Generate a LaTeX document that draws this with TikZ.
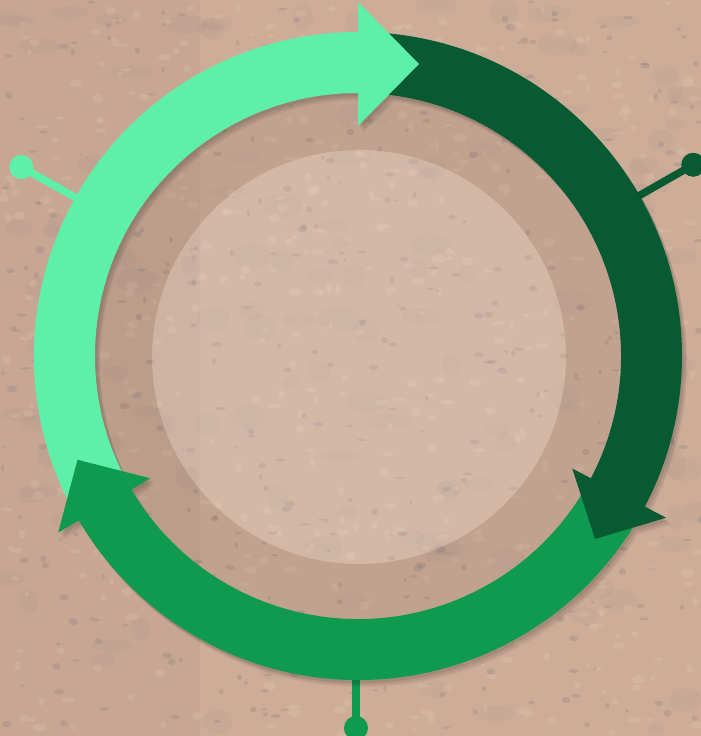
\documentclass[tikz,border=0pt]{standalone}
\usetikzlibrary{calc}
\definecolor{cork}{RGB}{206,173,152}
\definecolor{corkdark}{RGB}{118,112,124}
\definecolor{corklight}{RGB}{232,205,182}
\definecolor{lightg}{RGB}{94,240,168}
\definecolor{darkg}{RGB}{7,90,50}
\definecolor{midg}{RGB}{16,154,80}
\tikzset{
  pinline/.style={line width=7.5pt},
  speck/.style={fill=corkdark,opacity=0.22},
  lspeck/.style={fill=corklight,opacity=0.22},
  blotch/.style={fill=corkdark,opacity=0.06}
}
\newcommand\lightshaft{(207:324) arc[start angle=207,end angle=88,radius=324] -- (88:263) arc[start angle=88,end angle=207,radius=263] -- cycle}
\newcommand\darkshaft{(86.5:324) arc[start angle=86.5,end angle=-29.5,radius=324] -- (-29.5:263) arc[start angle=-29.5,end angle=86.5,radius=263] -- cycle}
\newcommand\midshaft{(-31:324) arc[start angle=-31,end angle=-151.5,radius=324] -- (-151.5:263) arc[start angle=-151.5,end angle=-31,radius=263] -- cycle}
\newcommand\lighthead{(90:230) -- (90:354) -- (61,292) -- cycle}
\newcommand\darkhead{(-27.7:242) -- (-27.7:348) -- (237,-183) -- cycle}
\newcommand\midhead{(210.5:241) -- (210.5:348) -- (-280.5,-103.8) -- cycle}
\begin{document}
\begin{tikzpicture}[x=1pt,y=1pt]
\useasboundingbox (0,0) rectangle (701,736);
\clip (0,0) rectangle (701,736);
\fill[cork] (0,0) rectangle (701,736);
\fill[black,opacity=0.03] (0,0) rectangle (200,736);
% cork texture
\pgfmathsetseed{12}
\foreach \i in {1,...,160}{
  \pgfmathsetmacro{\rx}{rnd*701}
  \pgfmathsetmacro{\ry}{rnd*736}
  \pgfmathsetmacro{\ra}{8+rnd*14}
  \pgfmathsetmacro{\rb}{5+rnd*8}
  \fill[blotch] (\rx,\ry) ellipse [x radius=\ra, y radius=\rb];
}
\foreach \i in {1,...,420}{
  \pgfmathsetmacro{\rx}{rnd*701}
  \pgfmathsetmacro{\ry}{rnd*736}
  \pgfmathsetmacro{\ra}{1.5+rnd*4}
  \pgfmathsetmacro{\rb}{1+rnd*2.5}
  \fill[speck] (\rx,\ry) ellipse [x radius=\ra, y radius=\rb];
}
\foreach \i in {1,...,500}{
  \pgfmathsetmacro{\rx}{rnd*701}
  \pgfmathsetmacro{\ry}{rnd*736}
  \pgfmathsetmacro{\ra}{2+rnd*5}
  \pgfmathsetmacro{\rb}{1.5+rnd*3}
  \fill[lspeck] (\rx,\ry) ellipse [x radius=\ra, y radius=\rb];
}
\coordinate (C) at (358,380);
\coordinate (D) at (359,379);
% shaded band and inner disk
\fill[black,opacity=0.06,even odd rule] (C) circle (263) (D) circle (207);
\fill[white,opacity=0.14] (D) circle (207);
% pins
\coordinate (lbase) at ($(C)+(150.7:300)$);
\coordinate (lpin) at ($(C)+(150.7:386)$);
\coordinate (rbase) at ($(C)+(29.7:300)$);
\coordinate (rpin) at ($(C)+(29.7:386)$);
\coordinate (bbase) at (356,100);
\coordinate (bpin) at (356,8);
\draw[lightg,pinline] (lbase) -- (lpin);
\fill[lightg] (lpin) circle (12);
\draw[darkg,pinline] (rbase) -- (rpin);
\fill[darkg] (rpin) circle (12);
\draw[midg,pinline] (bbase) -- (bpin);
\fill[midg] (bpin) circle (12);
% soft shadow of the ring
\foreach \sx/\sy/\op in {363/373/0.06, 362/375/0.07, 360/377/0.08}{
\begin{scope}[shift={(\sx,\sy)},transparency group,opacity=\op]
  \fill[black] \lightshaft; \fill[black] \darkshaft; \fill[black] \midshaft;
  \fill[black] \lighthead; \fill[black] \darkhead; \fill[black] \midhead;
\end{scope}
}
% ring
\begin{scope}[shift={(358,380)}]
  \fill[lightg] \lightshaft;
  \fill[darkg] \darkshaft;
  \fill[midg] \midshaft;
  \fill[lightg] \lighthead;
  \fill[darkg] \darkhead;
  \fill[midg] \midhead;
\end{scope}
\end{tikzpicture}
\end{document}
